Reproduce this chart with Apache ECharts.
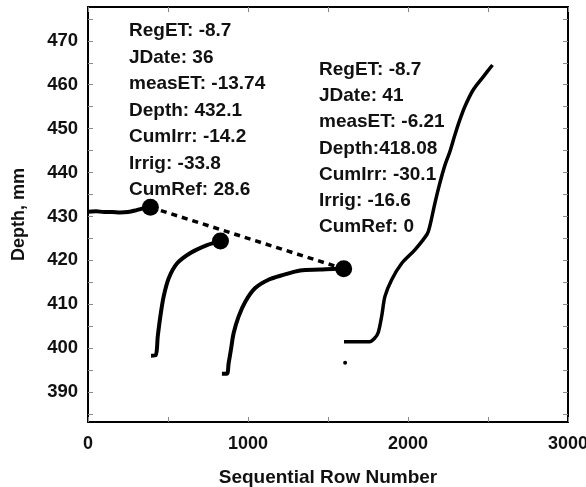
<!DOCTYPE html>
<html>
<head>
<meta charset="utf-8">
<script src="https://cdn.jsdelivr.net/npm/echarts@6/dist/echarts.min.js"></script>
<style>
  html, body { margin: 0; padding: 0; background: #fff; }
  #chart { width: 586px; height: 487px; }
</style>
</head>
<body>
<div id="chart"></div>
<script>
// rows vs depth (mm)
const run1 = [[0,431.1],[50,431.2],[100,431.0],[150,431.0],[200,430.9],[250,431.0],[300,431.4],[350,431.9],[390,432.1]];
const run2 = [[394,398.3],[423,398.4],[436,402.7],[452,407.2],[473,411.8],[504,415.9],[556,419.3],[640,421.7],[744,423.5],[828,424.4]];
const run3 = [[837,394.2],[868,394.2],[879,396.6],[893,399.6],[910,403.4],[941,407.2],[983,410.6],[1045,413.7],[1128,415.6],[1222,416.7],[1326,417.7],[1451,417.9],[1555,418.1],[1598,418.08]];
const run4 = [[1600,401.5],[1700,401.5],[1760,401.5],[1790,402.2],[1814,403.6],[1836,407.4],[1856,411.8],[1898,415.6],[1960,419.3],[2043,422.4],[2120,426.0],[2137,427.9],[2168,433.0],[2199,437.6],[2231,441.7],[2262,444.8],[2290,448.2],[2320,451.6],[2355,455.0],[2407,458.8],[2470,461.8],[2528,464.5]];
const picked = [[390,432.1],[828,424.4],[1598,418.08]];
const dashLink = [[390,432.1],[1598,418.08]];
const stray = [[1607,396.7]];

const yLabels = [390,400,410,420,430,440,450,460,470];
const yTicks = [385,390,395,400,405,410,415,420,425,430,435,440,445,450,455,460,465,470,475];

const note1 = ['RegET: -8.7','JDate: 36','measET: -13.74','Depth: 432.1','CumIrr: -14.2','Irrig: -33.8','CumRef: 28.6'];
const note2 = ['RegET: -8.7','JDate: 41','measET: -6.21','Depth:418.08','CumIrr: -30.1','Irrig: -16.6','CumRef: 0'];

const font = 'Liberation Sans, Arial, sans-serif';
const tickStyle = { show: true, inside: true, length: 5, lineStyle: { color: '#888', width: 1 } };

const chart = echarts.init(document.getElementById('chart'));

function curve(data, w) {
    return { type: 'line', data: data, showSymbol: false, symbol: 'none', smooth: 0.3,
             lineStyle: { color: '#000', width: w }, z: 3 };
}

chart.setOption({
    animation: false,
    grid: { left: 88, top: 7, right: 18, bottom: 65, outerBoundsMode: 'none' },
    xAxis: [{
        type: 'value', min: 0, max: 3000, interval: 1000, position: 'bottom',
        name: 'Sequential Row Number', nameLocation: 'middle', nameGap: 46,
        nameTextStyle: { fontFamily: font, fontWeight: 'bold', fontSize: 19, color: '#111' },
        axisLine: { show: true, onZero: false, lineStyle: { color: '#000', width: 2 } },
        axisTick: tickStyle,
        minorTick: { show: true, splitNumber: 2, length: 5, lineStyle: { color: '#888' } },
        axisLabel: { formatter: v => String(v), fontFamily: font, fontWeight: 'bold', fontSize: 18, color: '#111', margin: 13 },
        splitLine: { show: false }
    }, {
        type: 'value', min: 0, max: 3000, interval: 1000, position: 'top',
        axisLine: { show: true, onZero: false, lineStyle: { color: '#000', width: 2 } },
        axisTick: tickStyle,
        minorTick: { show: true, splitNumber: 2, length: 5, lineStyle: { color: '#888' } },
        axisLabel: { show: false }, splitLine: { show: false }
    }],
    yAxis: [{
        type: 'value', min: 383.2, max: 477.7, position: 'left',
        name: 'Depth, mm', nameLocation: 'middle', nameGap: 60, nameRotate: 90,
        nameTextStyle: { fontFamily: font, fontWeight: 'bold', fontSize: 18, color: '#111' },
        axisLine: { show: true, onZero: false, lineStyle: { color: '#000', width: 2 } },
        axisTick: Object.assign({ customValues: yTicks }, tickStyle),
        axisLabel: { customValues: yLabels, fontFamily: font, fontWeight: 'bold', fontSize: 18.5, color: '#111', margin: 10 },
        splitLine: { show: false }
    }, {
        type: 'value', min: 383.2, max: 477.7, position: 'right', alignTicks: false,
        axisLine: { show: true, onZero: false, lineStyle: { color: '#000', width: 2 } },
        axisTick: Object.assign({ customValues: yTicks }, tickStyle),
        axisLabel: { show: false }, splitLine: { show: false }
    }],
    graphic: [
        { type: 'text', left: 129, top: 18,
          style: { text: note1.join('\n'), font: 'bold 19px ' + font, fill: '#111', lineHeight: 26.5 } },
        { type: 'text', left: 319, top: 57,
          style: { text: note2.join('\n'), font: 'bold 19px ' + font, fill: '#111', lineHeight: 26.1 } }
    ],
    series: [
        curve(run1, 4),
        curve(run2, 4),
        curve(run3, 4),
        curve(run4, 3.5),
        { type: 'line', data: dashLink, symbol: 'none',
          lineStyle: { color: '#000', width: 3.5, type: [6, 5] }, z: 4 },
        { type: 'scatter', data: picked, symbol: 'circle', symbolSize: 17,
          itemStyle: { color: '#000', opacity: 1 }, z: 5 },
        { type: 'scatter', data: stray, symbol: 'circle', symbolSize: 4,
          itemStyle: { color: '#000', opacity: 1 }, z: 5 },
        // empty series so the right-hand frame axis is drawn
        { type: 'line', data: [], yAxisIndex: 1, xAxisIndex: 1 }
    ]
});
</script>
</body>
</html>
